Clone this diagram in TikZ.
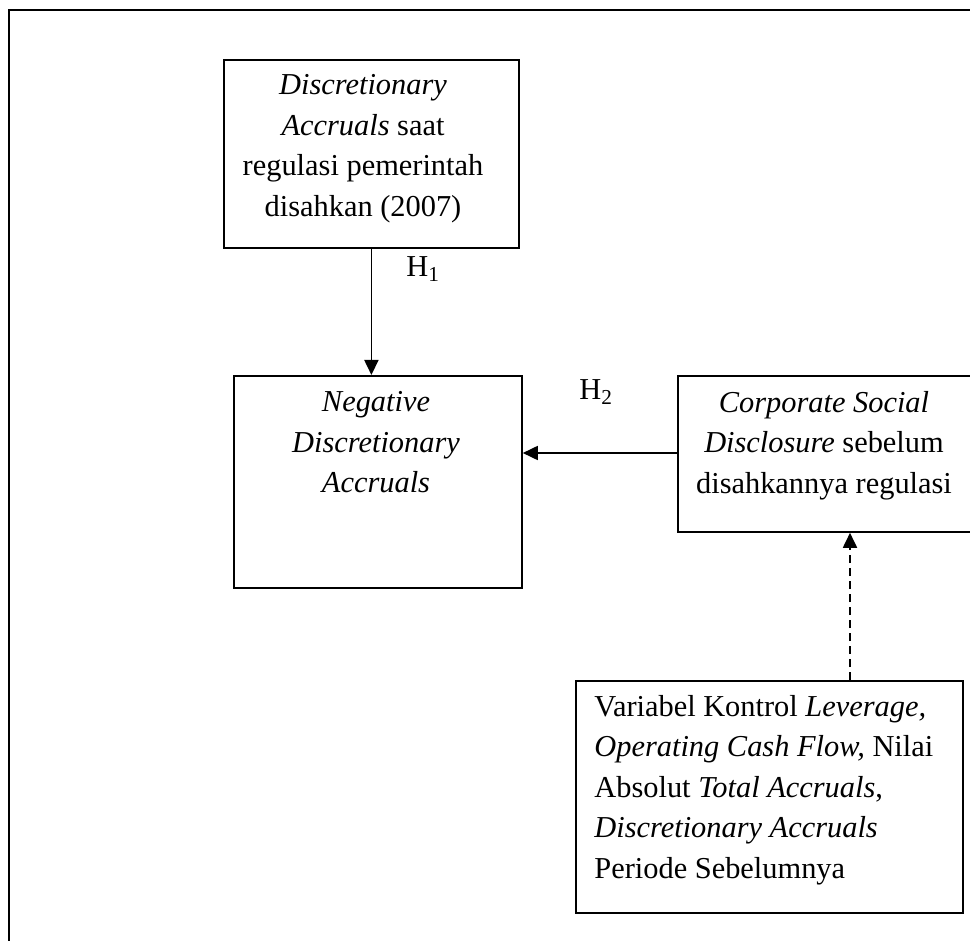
\documentclass[tikz,border=0pt]{standalone}
\usepackage{fontspec}
\setmainfont{Liberation Serif}
\usetikzlibrary{arrows.meta}
\begin{document}
\begin{tikzpicture}[x=0.5pt,y=-0.5pt,
  box/.style={draw,line width=0.9pt,rectangle,anchor=north west,inner sep=0pt},
  txt/.style={inner sep=0pt,font=\fontsize{15.2pt}{20.25pt}\selectfont},
  arr/.style={line width=0.9pt,-{Triangle[length=7.5pt,width=7pt]}},
  darr/.style={arr,dash pattern=on 4pt off 2.5pt}]
\useasboundingbox (0,0) rectangle (970,941);
\clip (0,0) rectangle (970,941);
% outer frame
\draw[line width=1.2pt] (9,10) rectangle (1010,990);
% boxes
\node[box,minimum width=147.5pt,minimum height=94pt] (top) at (223,59) {};
\node[box,minimum width=144pt,minimum height=106pt] (mid) at (233,375) {};
\node[box,minimum width=160pt,minimum height=78pt] (right) at (677,375) {};
\node[box,minimum width=193.5pt,minimum height=116pt] (bot) at (575,680) {};
% texts
\node[txt,anchor=north,align=center] (ttop) at (363,74)
  {\textit{Discretionary}\\ \textit{Accruals} saat\\ regulasi pemerintah\\ disahkan (2007)};
\node[txt,anchor=north,align=center] (tmid) at (376,391)
  {\textit{Negative}\\ \textit{Discretionary}\\ \textit{Accruals}};
\node[txt,anchor=north,align=center] (tright) at (824,391)
  {\textit{Corporate Social}\\ \textit{Disclosure} sebelum\\ disahkannya regulasi};
\node[txt,anchor=north west,align=left] (tbot) at (594,695)
  {Variabel Kontrol \textit{Leverage,}\\ \textit{Operating Cash Flow,} Nilai\\ Absolut \textit{Total Accruals},\\ \textit{Discretionary Accruals}\\ Periode Sebelumnya};
% labels
\node[txt,anchor=base west] (h1) at (406,277) {H\textsubscript{1}};
\node[txt,anchor=base west] (h2) at (579,400) {H\textsubscript{2}};
% connectors
\coordinate (dx) at (850,0);
\draw[arr] (top.south) -- (top.south |- mid.north);
\draw[arr] (right.west |- 0,453) -- (mid.east |- 0,453);
\draw[darr] (bot.north -| dx) -- (right.south -| dx);
\end{tikzpicture}
\end{document}
